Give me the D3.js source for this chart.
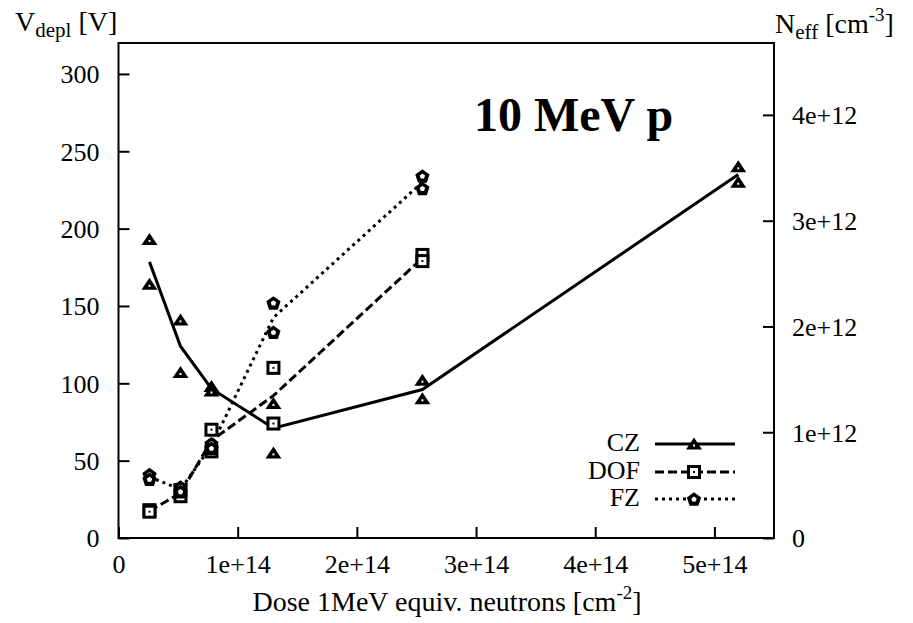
<!DOCTYPE html>
<html>
<head>
<meta charset="utf-8">
<script src="https://cdn.jsdelivr.net/npm/d3@7"></script>
<style>
  html, body { margin: 0; padding: 0; background: #fff; }
  svg { display: block; font-family: "Liberation Serif", "Times New Roman", serif; }
</style>
</head>
<body>
<svg id="chart" width="913" height="623"></svg>
<script>
// Irradiation doses (1 MeV equivalent neutrons per cm^2)
const doses = [2.6e13, 5.2e13, 7.8e13, 1.3e14, 2.55e14, 5.2e14];

// Full depletion voltage [V], two samples per dose
const czA  = [193, 141, 98, 87, 102, 240];
const czB  = [164, 107, 95, 55,  90, 230];
const dofA = [18, 31, 70, 110, 183];
const dofB = [17, 27, 56,  74, 179];
const fzA  = [41, 33, 61, 152, 234];
const fzB  = [38, 30, 58, 133, 226];

const xTicks = [0, 1e14, 2e14, 3e14, 4e14, 5e14];
const xTickLabels = ["0", "1e+14", "2e+14", "3e+14", "4e+14", "5e+14"];
const yTicks = [0, 50, 100, 150, 200, 250, 300];
const nTicks = [0, 1e12, 2e12, 3e12, 4e12];
const nTickLabels = ["0", "1e+12", "2e+12", "3e+12", "4e+12"];

const seriesNames = ["CZ", "DOF", "FZ"];

const svg = d3.select("#chart");
const L = 118.5, R = 774, T = 43, B = 538;

const x = d3.scaleLinear().domain([0, 5.5e14]).range([L, R]);
const y = d3.scaleLinear().domain([0, 320]).range([B, T]);
const yN = d3.scaleLinear().domain([0, 4.68e12]).range([B, T]);

const fontSize = 26;

// Axes with inward ticks
const gx = svg.append("g").attr("transform", `translate(0,${B})`)
  .call(d3.axisBottom(x).tickValues(xTicks).tickSize(-11).tickFormat((d, i) => xTickLabels[i]));
const gy = svg.append("g").attr("transform", `translate(${L},0)`)
  .call(d3.axisLeft(y).tickValues(yTicks).tickSize(-11).tickFormat(d3.format("d")));
const gn = svg.append("g").attr("transform", `translate(${R},0)`)
  .call(d3.axisRight(yN).tickValues(nTicks).tickSize(-11).tickFormat((d, i) => nTickLabels[i]));

[gx, gy, gn].forEach(g => {
  g.attr("font-family", null);
  g.select(".domain").remove();
  g.selectAll(".tick line").attr("stroke", "#000").attr("stroke-width", 2);
  g.selectAll(".tick text").attr("fill", "#000")
    .style("font-family", "'Liberation Serif', serif").style("font-size", fontSize + "px");
});
gx.selectAll(".tick text").attr("y", 0).attr("dy", null).attr("transform", "translate(0,35)");
gy.selectAll(".tick text").attr("x", -19).attr("dy", "0.34em");
gn.selectAll(".tick text").attr("x", 18).attr("dy", "0.34em");

// Plot frame
svg.append("rect").attr("x", L).attr("y", T).attr("width", R - L).attr("height", B - T)
  .attr("fill", "none").attr("stroke", "#000").attr("stroke-width", 2);

// Axis titles
const lt = svg.append("text").attr("x", 15).attr("y", 31).attr("font-size", 28);
lt.append("tspan").text("V");
lt.append("tspan").attr("font-size", 21).attr("dy", 6).text("depl");
lt.append("tspan").attr("dy", -6).text(" [V]");

const rt = svg.append("text").attr("x", 775).attr("y", 33).attr("font-size", 28);
rt.append("tspan").text("N");
rt.append("tspan").attr("font-size", 21).attr("dy", 6).text("eff");
rt.append("tspan").attr("dy", -6).text(" [cm");
rt.append("tspan").attr("font-size", 19).attr("dy", -12).text("-3");
rt.append("tspan").attr("dy", 12).text("]");

const bt = svg.append("text").attr("x", 447).attr("y", 611).attr("text-anchor", "middle").attr("font-size", 28);
bt.append("tspan").text("Dose 1MeV equiv. neutrons [cm");
bt.append("tspan").attr("font-size", 19).attr("dy", -12).text("-2");
bt.append("tspan").attr("dy", 12).text("]");

svg.append("text").attr("x", 474).attr("y", 131).attr("font-size", 48).attr("font-weight", "bold")
  .text("10 MeV p");

// Marker shapes
function drawTriangle(g) {
  g.append("path").attr("d", "M-8,5.5L8,5.5L0,-6.5Z").attr("fill", "#000");
  g.append("rect").attr("x", -1).attr("y", 0.5).attr("width", 2).attr("height", 2).attr("fill", "#fff");
}
function drawSquare(g) {
  g.append("rect").attr("x", -5.5).attr("y", -5.5).attr("width", 11).attr("height", 11)
    .attr("fill", "#fff").attr("stroke", "#000").attr("stroke-width", 3);
  g.append("rect").attr("x", -1).attr("y", -1).attr("width", 2).attr("height", 2).attr("fill", "#000");
}
function pentPath(r) {
  const pts = d3.range(5).map(i => {
    const a = -Math.PI / 2 + i * 2 * Math.PI / 5;
    return [r * Math.cos(a), r * Math.sin(a) + r * 0.1];
  });
  return "M" + pts.map(p => p.join(",")).join("L") + "Z";
}
function drawPentagon(g) {
  g.append("path").attr("d", pentPath(7.5)).attr("fill", "#000");
  g.append("path").attr("d", pentPath(2.8)).attr("fill", "#fff");
}

const series = [
  { name: seriesNames[0], a: czA,  b: czB,  dash: null,  marker: drawTriangle },
  { name: seriesNames[1], a: dofA, b: dofB, dash: "9,4", marker: drawSquare },
  { name: seriesNames[2], a: fzA,  b: fzB,  dash: "3,4", marker: drawPentagon }
];

const line = d3.line().x(d => x(d[0])).y(d => y(d[1]));

series.forEach(s => {
  // Line through the mean of the two samples at each dose
  const means = s.a.map((v, i) => [doses[i], (v + s.b[i]) / 2]);
  svg.append("path").datum(means).attr("d", line)
    .attr("fill", "none").attr("stroke", "#000").attr("stroke-width", 3)
    .attr("stroke-dasharray", s.dash);
  const pts = [];
  s.a.forEach((v, i) => { pts.push([doses[i], v]); pts.push([doses[i], s.b[i]]); });
  pts.forEach(p => {
    const g = svg.append("g").attr("transform", `translate(${x(p[0])},${y(p[1])})`);
    s.marker(g);
  });
});

// Legend
const legY = [444, 472, 499];
series.forEach((s, i) => {
  svg.append("text").attr("x", 640).attr("y", legY[i] + 7).attr("text-anchor", "end")
    .attr("font-size", fontSize).text(s.name);
  svg.append("line").attr("x1", 655).attr("x2", 735).attr("y1", legY[i]).attr("y2", legY[i])
    .attr("stroke", "#000").attr("stroke-width", 3).attr("stroke-dasharray", s.dash);
  const g = svg.append("g").attr("transform", `translate(694,${legY[i]})`);
  s.marker(g);
});
</script>
</body>
</html>
